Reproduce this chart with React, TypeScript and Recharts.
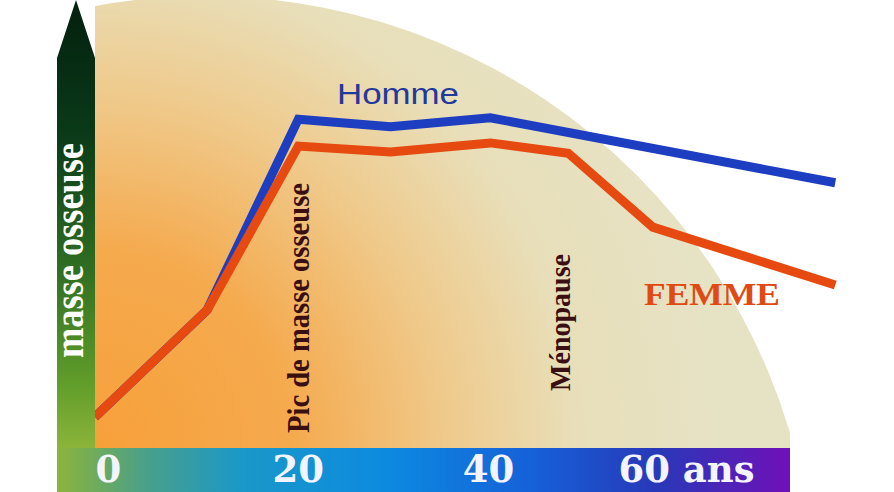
import React from 'react';
import { LineChart, Line, XAxis, YAxis } from 'recharts';

// ages (years) of each point
const ages = [-1.4, 10.4, 20, 29.7, 40.2, 48.4, 57.3, 76.5];
// bone mass (relative units 0-100)
const homme = [6.9, 30.8, 73.4, 71.7, 73.7, null, null, 59.2];
const femme = [6.9, 30.8, 67.4, 66.1, 68.1, 65.8, 49.3, 36.4];
const xTicks = [0, 20, 40, 60];
const xTickLabels = ['0', '20', '40', '60 ans'];

const data = ages.map((age, i) => ({ age, homme: homme[i], femme: femme[i] }));

const W = 894;
const H = 492;

const XTick = (props: any) => {
  const { x, y, payload } = props;
  const idx = xTicks.indexOf(payload.value);
  const label = idx >= 0 ? xTickLabels[idx] : String(payload.value);
  return (
    <text
      x={idx === 3 ? x + 8 : x}
      y={y + 34}
      textAnchor="middle"
      fill="#f4f4ff"
      fontFamily="'DejaVu Serif', serif"
      fontWeight="bold"
      fontSize={37}
    >
      {label}
    </text>
  );
};

export default function App() {
  return (
    <div style={{ position: 'absolute', left: 0, top: 0, width: W, height: H, background: '#ffffff', overflow: 'hidden' }}>
      {/* decorative background */}
      <svg width={W} height={H} style={{ position: 'absolute', left: 0, top: 0 }}>
        <defs>
          <radialGradient id="bgGrad" gradientUnits="userSpaceOnUse" cx={95} cy={448} r={620}>
            <stop offset="0" stopColor="#f7a03a" />
            <stop offset="0.32" stopColor="#f5aa4e" />
            <stop offset="0.57" stopColor="#efca8c" />
            <stop offset="0.78" stopColor="#e8dfba" />
            <stop offset="1" stopColor="#e6e2c4" />
          </radialGradient>
          <clipPath id="plotClip">
            <rect x={95} y={0} width={695} height={448} />
          </clipPath>
          <linearGradient id="yBar" x1="0" y1="0" x2="0" y2="1">
            <stop offset="0" stopColor="#03200f" />
            <stop offset="0.3" stopColor="#0a3a18" />
            <stop offset="0.6" stopColor="#2f6e22" />
            <stop offset="0.85" stopColor="#5f9c2a" />
            <stop offset="1" stopColor="#8bb43a" />
          </linearGradient>
          <linearGradient id="xBar" x1="0" y1="0" x2="1" y2="0">
            <stop offset="0" stopColor="#8cb43a" />
            <stop offset="0.12" stopColor="#4aa088" />
            <stop offset="0.25" stopColor="#1a98c8" />
            <stop offset="0.45" stopColor="#0c8ae0" />
            <stop offset="0.65" stopColor="#1660d8" />
            <stop offset="0.82" stopColor="#2838b8" />
            <stop offset="1" stopColor="#7010b8" />
          </linearGradient>
        </defs>
        <g clipPath="url(#plotClip)">
          <circle cx={205} cy={606} r={610} fill="url(#bgGrad)" />
        </g>
        <rect x={57} y={448} width={733} height={44} fill="url(#xBar)" />
        <polygon points="57,448 57,58 76,0 95,58 95,448" fill="url(#yBar)" />
        <text
          transform="translate(83,358) rotate(-90)"
          fill="#ffffff"
          fontFamily="'Liberation Serif', serif"
          fontWeight="bold"
          fontSize={39}
          textLength={215}
          lengthAdjust="spacingAndGlyphs"
        >
          masse osseuse
        </text>
      </svg>

      <div style={{ position: 'absolute', left: 0, top: 0 }}>
        <LineChart width={W} height={H} data={data} margin={{ top: 0, right: 54, bottom: 0, left: 95 }}>
          <XAxis
            dataKey="age"
            type="number"
            domain={[-1.4, 77]}
            ticks={xTicks}
            tick={<XTick />}
            axisLine={false}
            tickLine={false}
            tickSize={0}
            tickMargin={0}
            height={44}
            interval={0}
            allowDataOverflow
          />
          <YAxis hide domain={[0, 100]} type="number" />
          <Line
            type="linear"
            dataKey="homme"
            stroke="#1e3ec2"
            strokeWidth={9}
            dot={false}
            activeDot={false}
            connectNulls
            isAnimationActive={false}
          />
          <Line
            type="linear"
            dataKey="femme"
            stroke="#e64a10"
            strokeWidth={9}
            dot={false}
            activeDot={false}
            isAnimationActive={false}
          />
        </LineChart>
      </div>

      {/* annotations */}
      <svg width={W} height={H} style={{ position: 'absolute', left: 0, top: 0, pointerEvents: 'none' }}>
        <text
          x={337}
          y={104}
          fill="#22389c"
          fontFamily="'Liberation Sans', Arial, sans-serif"
          fontSize={29}
          textLength={122}
          lengthAdjust="spacingAndGlyphs"
        >
          Homme
        </text>
        <text
          x={644}
          y={305}
          fill="#e04a12"
          fontFamily="'Liberation Serif', serif"
          fontWeight="bold"
          fontSize={32}
          textLength={136}
          lengthAdjust="spacingAndGlyphs"
        >
          FEMME
        </text>
        <text
          transform="translate(309,433) rotate(-90)"
          fill="#3a0f12"
          fontFamily="'Liberation Serif', serif"
          fontWeight="bold"
          fontSize={31}
          textLength={250}
          lengthAdjust="spacingAndGlyphs"
        >
          Pic de masse osseuse
        </text>
        <text
          transform="translate(570,391) rotate(-90)"
          fill="#3a0f12"
          fontFamily="'Liberation Serif', serif"
          fontWeight="bold"
          fontSize={29}
          textLength={137}
          lengthAdjust="spacingAndGlyphs"
        >
          Ménopause
        </text>
      </svg>
    </div>
  );
}
